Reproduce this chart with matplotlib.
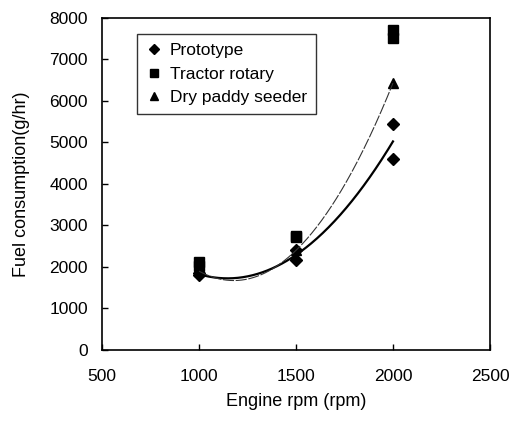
import matplotlib
matplotlib.use("Agg")
import matplotlib.pyplot as plt
import numpy as np

plt.rcParams['font.family'] = ['Liberation Sans', 'DejaVu Sans']

# engine speed and measured fuel consumption (two runs per machine)
rpm = [1000, 1500, 2000]
prototype_1 = [1800, 2170, 5450]
prototype_2 = [1850, 2410, 4600]
tractor_1 = [2120, 2720, 7710]
tractor_2 = [2020, 2740, 7520]
seeder = [1900, 2400, 6430]

x_ticks = [500, 1000, 1500, 2000, 2500]
y_ticks = [0, 1000, 2000, 3000, 4000, 5000, 6000, 7000, 8000]

fig = plt.figure(figsize=(5.13, 4.25), dpi=100)
ax = fig.add_axes([0.1988, 0.1765, 0.7563, 0.7812])

ax.plot(rpm + rpm, prototype_1 + prototype_2, 'D', color='black', ms=6,
        label='Prototype')
ax.plot(rpm + rpm, tractor_1 + tractor_2, 's', color='black', ms=7,
        label='Tractor rotary')
ax.plot(rpm, seeder, '^', color='black', ms=7.5, label='Dry paddy seeder')

# quadratic trend lines
xs = np.linspace(1000, 2000, 200)
proto_mean = (np.array(prototype_1) + np.array(prototype_2)) / 2
p1 = np.polyfit(rpm, proto_mean, 2)
ax.plot(xs, np.polyval(p1, xs), '-', color='black', lw=1.6)
p2 = np.polyfit(rpm, seeder, 2)
ax.plot(xs, np.polyval(p2, xs), color='#333333', lw=0.8, dashes=(10, 1.5))

ax.set_xlim(500, 2500)
ax.set_ylim(0, 8000)
ax.set_xticks(x_ticks)
ax.set_yticks(y_ticks)
ax.tick_params(direction='in', labelsize=12.5, length=4, width=1)
ax.tick_params(axis='x', pad=14)
ax.tick_params(axis='y', pad=10)
for s in ax.spines.values():
    s.set_linewidth(1.2)

ax.set_xlabel('Engine rpm (rpm)', fontsize=13, labelpad=6)
ax.set_ylabel('Fuel consumption(g/hr)', fontsize=13, labelpad=14)

leg = ax.legend(loc='upper left', bbox_to_anchor=(0.09, 0.952), fontsize=12.5,
                frameon=True, fancybox=False, edgecolor='black',
                borderaxespad=0, handletextpad=0.4, handlelength=1.0,
                borderpad=0.5, labelspacing=0.5, markerscale=0.85)
leg.get_frame().set_linewidth(1.0)

fig.savefig('out.png', dpi=100)
